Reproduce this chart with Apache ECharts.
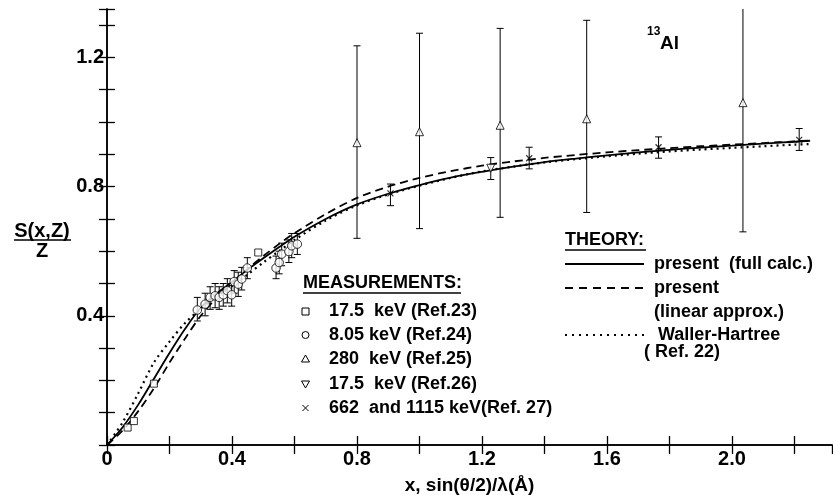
<!DOCTYPE html>
<html><head><meta charset="utf-8">
<script src="https://cdn.jsdelivr.net/npm/echarts@6/dist/echarts.min.js"></script>
<style>html,body{margin:0;padding:0;background:#fff}#c{width:833px;height:495px}</style>
</head><body><div id="c"></div>
<script>
// ---- data ----
const xTickLabels = ['0','0.4','0.8','1.2','1.6','2.0'];
const yTickLabels = ['0.4','0.8','1.2'];
const curveX        = [0,0.05,0.1,0.15,0.2,0.25,0.3,0.35,0.4,0.45,0.5,0.55,0.6,0.7,0.8,0.9,1.0,1.1,1.2,1.3,1.4,1.5,1.6,1.7,1.8,1.9,2.0,2.1,2.2,2.25];
const fullCalc      = [0,0.055,0.125,0.205,0.285,0.36,0.425,0.468,0.505,0.543,0.578,0.612,0.645,0.70,0.745,0.778,0.805,0.828,0.846,0.862,0.876,0.887,0.897,0.906,0.914,0.921,0.927,0.933,0.939,0.942];
const linearApprox  = [0,0.045,0.105,0.175,0.255,0.33,0.40,0.455,0.50,0.545,0.585,0.622,0.656,0.715,0.765,0.80,0.827,0.848,0.865,0.878,0.889,0.898,0.906,0.913,0.919,0.925,0.93,0.935,0.94,0.943];
const wallerHartree = [0,0.07,0.16,0.255,0.32,0.378,0.422,0.46,0.492,0.528,0.565,0.60,0.635,0.695,0.742,0.776,0.803,0.827,0.847,0.862,0.875,0.885,0.894,0.902,0.909,0.915,0.92,0.925,0.93,0.932];
// [x, y]
const ref23 = [[0.066,0.054],[0.086,0.074],[0.15,0.19],[0.484,0.596]];
// [x, y, low, high]
const ref24 = [
 [0.289,0.418,0.384,0.457],[0.314,0.436,0.40,0.47],[0.330,0.457,0.42,0.49],[0.346,0.462,0.425,0.50],
 [0.359,0.457,0.42,0.49],[0.372,0.465,0.43,0.50],[0.385,0.478,0.44,0.515],[0.399,0.465,0.43,0.50],
 [0.407,0.506,0.47,0.54],[0.420,0.498,0.46,0.535],[0.431,0.514,0.48,0.55],[0.449,0.548,0.515,0.58],
 [0.541,0.548,0.515,0.585],[0.551,0.565,0.53,0.60],[0.559,0.591,0.555,0.625],[0.582,0.599,0.565,0.635],
 [0.591,0.617,0.58,0.655],[0.609,0.622,0.59,0.655]];
const ref25 = [[0.80,0.936,0.64,1.236],[1.0,0.97,0.67,1.275],[1.258,0.99,0.705,1.29],[1.535,1.01,0.72,1.315],[2.035,1.06,0.66,1.46]];
const ref26 = [[1.228,0.857,0.822,0.89]];
const ref27 = [[0.907,0.779,0.741,0.808],[1.351,0.888,0.855,0.922],[1.765,0.922,0.888,0.954],[2.215,0.945,0.912,0.98]];

// ---- chart ----
const FONT = '"Liberation Sans", Arial, sans-serif';
const chart = echarts.init(document.getElementById('c'));
const zip = (xs, ys) => xs.map((x, i) => [x, ys[i]]);
function errItem(params, api) {
  const x = api.value(0), lo = api.value(2), hi = api.value(3);
  const a = api.coord([x, lo]), b = api.coord([x, hi]);
  const w = 3.5;
  const st = {stroke: '#000', lineWidth: 1};
  return {type: 'group', children: [
    {type: 'line', shape: {x1: a[0], y1: a[1], x2: b[0], y2: b[1]}, style: st},
    {type: 'line', shape: {x1: a[0]-w, y1: a[1], x2: a[0]+w, y2: a[1]}, style: st},
    {type: 'line', shape: {x1: b[0]-w, y1: b[1], x2: b[0]+w, y2: b[1]}, style: st}
  ]};
}
const errSeries = d => ({type: 'custom', renderItem: errItem, data: d, clip: true, encode: {x: 0, y: [2, 3]}, z: 3, silent: true});
const mk = {color: '#fff', borderColor: '#000', borderWidth: 1};
const xFmt = v => { const s = Math.abs(v) < 1e-9 ? '0' : v.toFixed(1); return (xTickLabels.includes(s) && Math.abs(v - parseFloat(s)) < 1e-6) ? s : ''; };
const yFmt = v => { const s = v.toFixed(1); return (yTickLabels.includes(s) && Math.abs(v - parseFloat(s)) < 1e-6) ? s : ''; };
const axLine = {show: true, lineStyle: {color: '#000', width: 1.5}};
const tick = len => ({show: true, inside: true, length: len, lineStyle: {color: '#000', width: 1.3}});

const txt = (x, y, s, size, extra) => Object.assign({type: 'text', x: x, y: y, style: Object.assign({text: s, font: 'bold ' + size + 'px ' + FONT, fill: '#000', textVerticalAlign: 'middle'}, extra || {})});
const ln = (x1, y1, x2, y2, dash, w) => ({type: 'line', shape: {x1, y1, x2, y2}, style: {stroke: '#000', lineWidth: w || 1.5, lineDash: dash || null}});

const graphic = [
  // y-axis title as fraction
  txt(42, 231, 'S(x,Z)', 20, {textAlign: 'center'}),
  ln(14, 240, 71, 240, null, 1.5),
  txt(42, 251, 'Z', 20, {textAlign: 'center'}),
  // element label
  txt(647, 32, '13', 12),
  txt(660, 44, 'Al', 19),
  // measurements legend
  txt(303, 283, 'MEASUREMENTS:', 18),
  ln(303, 293, 461, 293, null, 1.5),
  {type: 'rect', shape: {x: 302, y: 308, width: 7, height: 7}, style: {fill: '#fff', stroke: '#000', lineWidth: 1}},
  txt(329, 311, '17.5  keV (Ref.23)', 18),
  {type: 'circle', shape: {cx: 305.5, cy: 335, r: 3.5}, style: {fill: '#fff', stroke: '#000', lineWidth: 1}},
  txt(329, 335, '8.05 keV (Ref.24)', 18),
  {type: 'polygon', shape: {points: [[305.5, 355], [301.5, 362], [309.5, 362]]}, style: {fill: '#fff', stroke: '#000', lineWidth: 1}},
  txt(329, 359, '280  keV (Ref.25)', 18),
  {type: 'polygon', shape: {points: [[301.5, 381], [309.5, 381], [305.5, 388]]}, style: {fill: '#fff', stroke: '#000', lineWidth: 1}},
  txt(329, 384, '17.5  keV (Ref.26)', 18),
  ln(302.5, 405, 308.5, 411, null, 1), ln(308.5, 405, 302.5, 411, null, 1),
  txt(329, 408, '662  and 1115 keV(Ref. 27)', 18),
  // theory legend
  txt(565, 240, 'THEORY:', 18),
  ln(565, 250, 646, 250, null, 1.5),
  ln(565, 264, 644, 264, null, 1.8),
  txt(654, 264, 'present  (full calc.)', 18),
  ln(565, 288, 644, 288, [8, 6], 1.8),
  txt(654, 288, 'present', 18),
  txt(654, 312, '(linear approx.)', 18),
  ln(565, 335, 644, 335, [2, 5], 2),
  txt(658, 335, 'Waller-Hartree', 18),
  txt(644, 352, '( Ref. 22)', 18)
];

chart.setOption({
  animation: false,
  backgroundColor: '#fff',
  grid: {left: 107, right: 1, top: 9, bottom: 50, show: false, containLabel: false, outerBoundsMode: 'none'},
  xAxis: [
    {type: 'value', min: 0, max: 2.32, interval: 0.2, position: 'bottom',
     axisLine: axLine, axisTick: tick(9), splitLine: {show: false},
     axisLabel: {formatter: xFmt, color: '#000', fontFamily: FONT, fontWeight: 'bold', fontSize: 20, margin: 4, showMaxLabel: false},
     name: 'x, sin(θ/2)/λ(Å)', nameLocation: 'middle', nameGap: 31,
     nameTextStyle: {color: '#000', fontFamily: FONT, fontWeight: 'bold', fontSize: 19}},
    {type: 'value', min: 0, max: 2.32, interval: 0.2, position: 'top',
     axisLine: axLine, axisTick: tick(9), splitLine: {show: false}, axisLabel: {show: false}}
  ],
  yAxis: [
    {type: 'value', min: 0, max: 1.35, interval: 0.1, position: 'left',
     axisLine: axLine, axisTick: tick(8), splitLine: {show: false},
     axisLabel: {formatter: yFmt, color: '#000', fontFamily: FONT, fontWeight: 'bold', fontSize: 20, margin: 3}},
    {type: 'value', min: 0, max: 1.35, interval: 0.1, position: 'right',
     axisLine: axLine, axisTick: tick(8), splitLine: {show: false}, axisLabel: {show: false}}
  ],
  graphic: graphic,
  series: [
    {type: 'line', data: zip(curveX, fullCalc), smooth: 0.3, showSymbol: false, lineStyle: {color: '#000', width: 1.8}, z: 2, silent: true},
    {type: 'line', data: zip(curveX, linearApprox), smooth: 0.3, showSymbol: false, lineStyle: {color: '#000', width: 1.8, type: [8, 5]}, z: 2, silent: true},
    {type: 'line', data: zip(curveX, wallerHartree), smooth: 0.3, showSymbol: false, lineStyle: {color: '#000', width: 2.2, type: [2, 4]}, z: 2, silent: true},
    errSeries(ref24), errSeries(ref25), errSeries(ref26), errSeries(ref27),
    {type: 'scatter', data: ref23, symbol: 'rect', symbolSize: 7, itemStyle: mk, z: 4, silent: true},
    {type: 'scatter', data: ref24.map(d => [d[0], d[1]]), symbol: 'circle', symbolSize: 8.5, itemStyle: mk, z: 4, silent: true},
    {type: 'scatter', data: ref25.map(d => [d[0], d[1]]), symbol: 'triangle', symbolSize: 8, itemStyle: mk, z: 4, silent: true},
    {type: 'scatter', data: ref26.map(d => [d[0], d[1]]), symbol: 'triangle', symbolRotate: 180, symbolSize: 8, itemStyle: mk, z: 4, silent: true},
    {type: 'scatter', data: ref27.map(d => [d[0], d[1]]), symbol: 'path://M0,0L10,10M10,0L0,10', symbolSize: 6,
     itemStyle: {color: 'none', borderColor: '#000', borderWidth: 1.2}, z: 4, silent: true}
  ]
});
</script></body></html>
